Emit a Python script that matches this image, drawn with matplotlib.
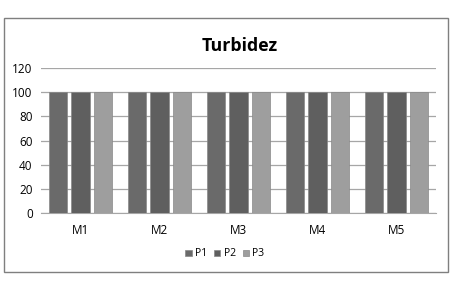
import numpy as np
import matplotlib.pyplot as plt
from matplotlib.patches import Rectangle

# Turbidez por muestra (M1..M5) y punto (P1..P3)
categories = ['M1', 'M2', 'M3', 'M4', 'M5']
series_names = ['P1', 'P2', 'P3']
p1 = [100, 100, 100, 100, 100]
p2 = [100, 100, 100, 100, 100]
p3 = [100, 100, 100, 100, 100]
yticks = [0, 20, 40, 60, 80, 100, 120]

colors = ['#6a6a6a', '#5f5f5f', '#9e9e9e']

plt.rcParams['font.family'] = ['Open Sans', 'DejaVu Sans']

fig = plt.figure(figsize=(4.51, 2.90), dpi=100)
fig.patches.append(Rectangle((4 / 451, 1 - 272 / 290), 444 / 451, 254 / 290,
                             transform=fig.transFigure, fill=False,
                             edgecolor='#7f7f7f', linewidth=1.0))

ax = fig.add_axes([41 / 451, 1 - 213 / 290, 395 / 451, 145 / 290])
x = np.arange(len(categories))
width = 0.23
offsets = [-0.29, 0, 0.29]
for vals, name, col, off in zip([p1, p2, p3], series_names, colors, offsets):
    ax.bar(x + off, vals, width, color=col, edgecolor='#888888',
           linewidth=0.5, label=name, zorder=3)

ax.set_xlim(-0.5, len(categories) - 0.5)
ax.set_ylim(0, 120)
ax.set_yticks(yticks)
ax.set_xticks(x)
ax.set_xticklabels(categories)
ax.yaxis.grid(True, color='#a6a6a6', linewidth=0.9, zorder=0)
for s in ['top', 'right', 'left']:
    ax.spines[s].set_visible(False)
ax.spines['bottom'].set_color('#a6a6a6')
ax.tick_params(axis='both', length=0, labelsize=8.5, colors='black')
ax.tick_params(axis='x', pad=8)
ax.tick_params(axis='y', pad=6)

fig.text(240 / 451, 1 - 46 / 290, 'Turbidez', ha='center', va='center',
         fontsize=12.8, fontweight='bold')

fig.legend(loc='center', bbox_to_anchor=(225 / 451, 1 - 254 / 290), ncol=3,
           frameon=False, fontsize=7.5, handlelength=0.6, handleheight=0.6,
           handletextpad=0.3, columnspacing=0.7)

fig.savefig('out.png', dpi=100)
